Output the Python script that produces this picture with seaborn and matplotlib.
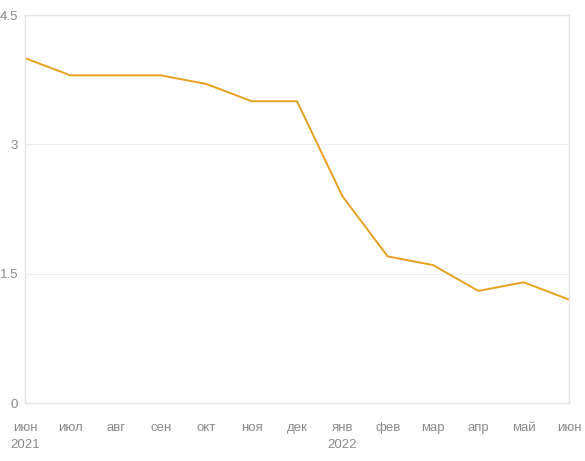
import matplotlib
matplotlib.use("Agg")
import matplotlib.pyplot as plt
import seaborn as sns
import pandas as pd

# monthly values, jun 2021 .. jun 2022
months = ["июн", "июл", "авг", "сен", "окт", "ноя", "дек",
          "янв", "фев", "мар", "апр", "май", "июн"]
years = {0: "2021", 7: "2022"}
values = [4.0, 3.8, 3.8, 3.8, 3.7, 3.5, 3.5, 2.4, 1.7, 1.6, 1.3, 1.4, 1.2]
yticks = [0, 1.5, 3, 4.5]
ytick_labels = ["0", "1.5", "3", "4.5"]

df = pd.DataFrame({"idx": range(len(values)), "value": values})

sns.set_style("white")
plt.rcParams["font.family"] = ["Liberation Sans", "DejaVu Sans"]

fig = plt.figure(figsize=(5.85, 4.61), dpi=100)
ax = fig.add_axes([25 / 585, 1 - 403 / 461, 544 / 585, 388 / 461])

sns.lineplot(data=df, x="idx", y="value", ax=ax, color="#E89F1F", linewidth=1.4)

ax.set_xlim(0, len(values) - 1)
ax.set_ylim(0, 4.5)
ax.set_yticks(yticks)
ax.set_yticklabels(ytick_labels)
ax.set_xticks(range(len(months)))
ax.set_xticklabels([m + ("\n" + years[i] if i in years else "\n") for i, m in enumerate(months)],
                   linespacing=1.5)
ax.grid(axis="y", color="#EDEDED", linewidth=0.8)
ax.set_axisbelow(True)
for s in ax.spines.values():
    s.set_color("#E3E3E3")
    s.set_linewidth(1.0)
ax.tick_params(axis="both", length=0, colors="#8A8A8A", labelsize=9.5)
ax.tick_params(axis="x", pad=14)
ax.tick_params(axis="y", pad=5)
ax.set_xlabel("")
ax.set_ylabel("")

fig.savefig("out.png", dpi=100)
